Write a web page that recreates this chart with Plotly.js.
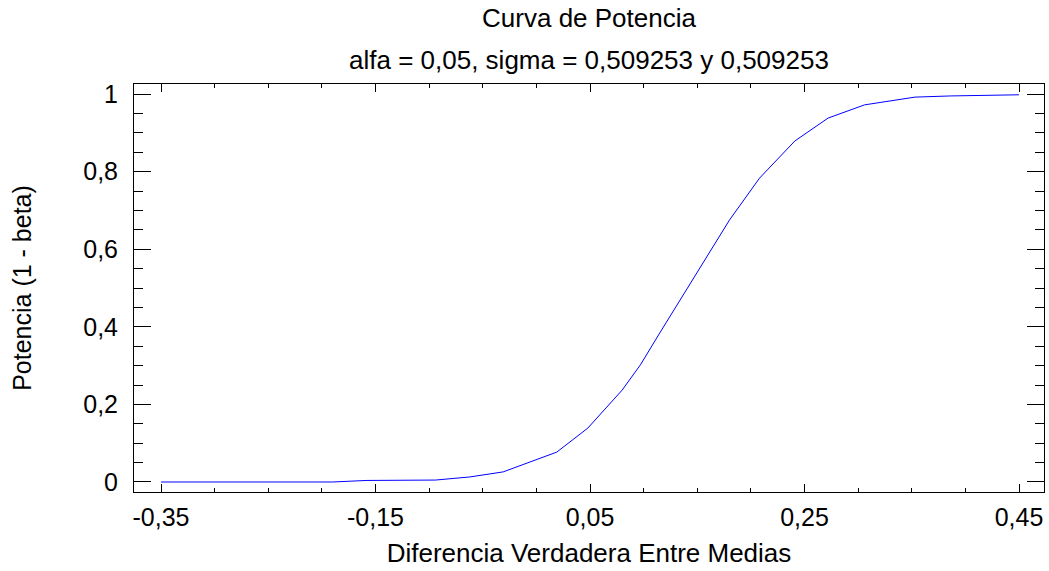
<!DOCTYPE html>
<html>
<head>
<meta charset="utf-8">
<script src="https://cdn.plot.ly/plotly-3.0.1.min.js"></script>
<style>html,body{margin:0;padding:0;background:#fff;}#chart{width:1049px;height:571px;}</style>
</head>
<body>
<div id="chart"></div>
<script>
const titleText = "Curva de Potencia";
const subtitleText = "alfa = 0,05, sigma = 0,509253 y 0,509253";
const xTitle = "Diferencia Verdadera Entre Medias";
const yTitle = "Potencia (1 - beta)";

const diferencia = [-0.35, -0.19, -0.158, -0.094, -0.062, -0.031, 0.019, 0.048, 0.08, 0.097, 0.115, 0.134, 0.159, 0.18, 0.208, 0.241, 0.272, 0.306, 0.353, 0.386, 0.45];
const potencia   = [0, 0, 0.004, 0.005, 0.013, 0.026, 0.077, 0.139, 0.237, 0.302, 0.384, 0.469, 0.581, 0.675, 0.783, 0.879, 0.938, 0.972, 0.992, 0.995, 0.998];

const xTickVals = [-0.35, -0.15, 0.05, 0.25, 0.45];
const xTickText = ["-0,35", "-0,15", "0,05", "0,25", "0,45"];
const yTickVals = [0, 0.2, 0.4, 0.6, 0.8, 1];
const yTickText = ["0", "0,2", "0,4", "0,6", "0,8", "1"];

const FONT = "Liberation Sans, Arial, sans-serif";

const trace = {
  x: diferencia, y: potencia, type: "scatter", mode: "lines",
  line: {color: "#0000ff", width: 1}, hoverinfo: "x+y"
};

const layout = {
  width: 1049, height: 571,
  margin: {l: 134, r: 5, t: 84, b: 79},
  paper_bgcolor: "#ffffff", plot_bgcolor: "#ffffff",
  separators: ",.",
  font: {family: FONT, size: 25, color: "#000000"},
  showlegend: false,
  title: {
    text: titleText, font: {family: FONT, size: 26, color: "#000"},
    xref: "paper", x: 0.5, xanchor: "center",
    yref: "container", y: 1 - 18/571, yanchor: "middle"
  },
  annotations: [{
    text: subtitleText, showarrow: false,
    xref: "paper", x: 0.5, xanchor: "center",
    yref: "paper", y: 1 + (84 - 60)/408, yanchor: "middle",
    font: {family: FONT, size: 26, color: "#000"}
  }],
  xaxis: {
    range: [-0.3752, 0.4733], autorange: false,
    tickmode: "array", tickvals: xTickVals, ticktext: xTickText,
    ticks: "inside", ticklen: 8, tickwidth: 1, tickcolor: "#000",
    minor: {dtick: 0.05, tick0: -0.35, ticks: "inside", ticklen: 4, tickcolor: "#000", tickwidth: 1, showgrid: false},
    showline: true, linecolor: "#000", linewidth: 1, mirror: "ticks",
    showgrid: false, zeroline: false,
    tickfont: {family: FONT, size: 25, color: "#000"},
    ticklabelstandoff: 3,
    title: {text: xTitle, font: {family: FONT, size: 26, color: "#000"}, standoff: 13}
  },
  yaxis: {
    range: [-0.0258, 1.0258], autorange: false,
    tickmode: "array", tickvals: yTickVals, ticktext: yTickText,
    ticks: "inside", ticklen: 17, tickwidth: 1, tickcolor: "#000",
    minor: {dtick: 0.05, tick0: 0, ticks: "inside", ticklen: 9, tickcolor: "#000", tickwidth: 1, showgrid: false},
    showline: true, linecolor: "#000", linewidth: 1, mirror: "ticks",
    showgrid: false, zeroline: false,
    tickfont: {family: FONT, size: 25, color: "#000"},
    ticklabelstandoff: 10,
    title: {text: yTitle, font: {family: FONT, size: 25, color: "#000"}, standoff: 44}
  }
};

Plotly.newPlot("chart", [trace], layout, {displayModeBar: false, staticPlot: false});
</script>
</body>
</html>
